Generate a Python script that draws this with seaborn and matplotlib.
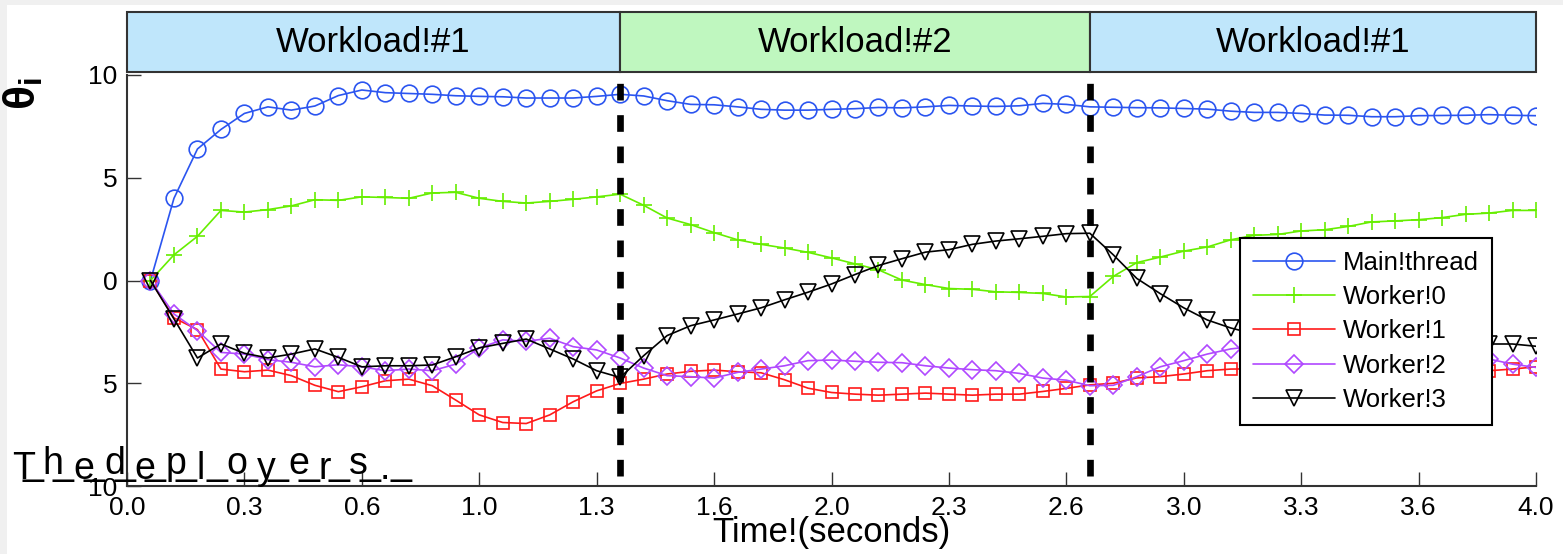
import numpy as np
import matplotlib
matplotlib.use("Agg")
import matplotlib.pyplot as plt
from matplotlib.patches import Rectangle
import seaborn as sns

# sample times: one sample every 1/15 s, 60 samples
SAMPLE_PERIOD = 1.0 / 15.0
time = SAMPLE_PERIOD * np.arange(1, 61)

main_thread = [0.0, 4.0, 6.4, 7.35, 8.13, 8.45, 8.29, 8.49, 9.0, 9.27,
               9.14, 9.1, 9.06, 8.99, 8.96, 8.94, 8.88, 8.88, 8.88, 8.96,
               9.06, 8.98, 8.75, 8.57, 8.55, 8.45, 8.33, 8.29, 8.29, 8.33,
               8.36, 8.42, 8.40, 8.45, 8.52, 8.49, 8.47, 8.50, 8.62, 8.57,
               8.45, 8.43, 8.41, 8.40, 8.37, 8.34, 8.24, 8.18, 8.18, 8.13,
               8.05, 8.04, 7.97, 7.97, 8.02, 8.03, 8.04, 8.07, 8.04, 8.02]
worker0 = [0.0, 1.25, 2.15, 3.41, 3.33, 3.45, 3.63, 3.93, 3.90, 4.07,
           4.04, 4.0, 4.26, 4.29, 4.0, 3.85, 3.77, 3.85, 3.95, 4.07,
           4.2, 3.66, 3.04, 2.72, 2.33, 1.98, 1.76, 1.58, 1.37, 1.1,
           0.81, 0.52, 0.02, -0.2, -0.39, -0.43, -0.55, -0.58, -0.63, -0.8,
           -0.78, 0.2, 0.87, 1.14, 1.43, 1.63, 1.98, 2.2, 2.24, 2.41,
           2.47, 2.63, 2.85, 2.9, 2.96, 3.06, 3.22, 3.28, 3.41, 3.41]
worker1 = [0.0, -1.82, -2.39, -4.31, -4.44, -4.36, -4.63, -5.1, -5.41, -5.17,
           -4.88, -4.8, -5.12, -5.82, -6.54, -6.91, -6.96, -6.54, -5.9, -5.37,
           -5.01, -4.8, -4.55, -4.42, -4.36, -4.44, -4.49, -4.83, -5.24, -5.45,
           -5.53, -5.58, -5.53, -5.48, -5.53, -5.58, -5.53, -5.53, -5.4, -5.25,
           -5.08, -5.0, -4.74, -4.68, -4.55, -4.39, -4.31, -4.3, -4.3, -4.32,
           -4.35, -4.35, -4.38, -4.4, -4.4, -4.4, -4.4, -4.39, -4.31, -4.2]
worker2 = [0.0, -1.63, -2.44, -3.5, -3.58, -3.85, -3.98, -4.2, -4.1, -4.2,
           -4.39, -4.31, -4.39, -4.07, -3.28, -2.89, -2.96, -2.81, -3.22, -3.38,
           -3.77, -4.26, -4.63, -4.68, -4.75, -4.47, -4.31, -4.15, -3.9, -3.87,
           -3.93, -3.98, -4.0, -4.15, -4.26, -4.34, -4.39, -4.52, -4.75, -4.85,
           -5.12, -5.1, -4.68, -4.2, -3.9, -3.58, -3.33, -3.2, -3.2, -3.3,
           -3.35, -3.45, -3.5, -3.55, -3.6, -3.65, -3.7, -3.82, -4.07, -4.23]
worker3 = [0.0, -1.87, -3.77, -3.09, -3.54, -3.77, -3.58, -3.33, -3.74, -4.2,
           -4.15, -4.15, -4.11, -3.71, -3.28, -3.06, -2.85, -3.33, -3.82, -4.39,
           -4.72, -3.66, -2.68, -2.2, -1.92, -1.63, -1.33, -0.94, -0.57, -0.17,
           0.29, 0.73, 1.06, 1.38, 1.5, 1.76, 1.92, 2.03, 2.15, 2.28,
           2.3, 1.25, 0.1, -0.64, -1.33, -1.92, -2.31, -2.6, -2.8, -2.9,
           -3.0, -3.0, -3.05, -3.1, -3.1, -3.1, -3.1, -3.09, -3.09, -3.2]

series_names = ["Main!thread", "Worker!0", "Worker!1", "Worker!2", "Worker!3"]
series_values = [main_thread, worker0, worker1, worker2, worker3]
series_colors = ["#2b55f0", "#66ee00", "#ff1a1a", "#b048ff", "#000000"]
series_markers = ["o", "+", "s", "D", "v"]
marker_sizes = [12, 12, 9, 9, 12]

phase_edges = [0.0, 1.4, 2.7333, 4.0]
phase_labels = ["Workload!#1", "Workload!#2", "Workload!#1"]
phase_colors = ["#bfe6fb", "#bff7bf", "#bfe6fb"]

xtick_pos = np.linspace(0, 4, 13)
xtick_labels = ["0.0", "0.3", "0.6", "1.0", "1.3", "1.6", "2.0",
                "2.3", "2.6", "3.0", "3.3", "3.6", "4.0"]
ytick_pos = [10, 5, 0, -5, -10]
ytick_labels = ["10", "5", "0", "5", "10"]

garbled = "Thedeployers."

sns.set_style("white")
plt.rcParams["font.family"] = ["Liberation Sans", "DejaVu Sans"]
plt.rcParams["mathtext.fontset"] = "custom"
plt.rcParams["mathtext.rm"] = "Liberation Sans"
plt.rcParams["mathtext.it"] = "Liberation Sans:italic"
plt.rcParams["mathtext.bf"] = "Liberation Sans:bold"
for key in ["text.color", "axes.labelcolor", "xtick.labelcolor", "ytick.labelcolor"]:
    plt.rcParams[key] = "black"

W, H = 1563, 554
fig = plt.figure(figsize=(W / 100, H / 100), dpi=100)
fig.patch.set_facecolor("#f0f0f0")
fig.add_artist(Rectangle((7 / W, 0), 1, 1 - 5 / H, transform=fig.transFigure,
                         facecolor="white", edgecolor="none", zorder=-10))

ax = fig.add_axes([127 / W, 1 - 486 / H, 1409 / W, 411 / H])

for name, vals, col, mk, ms in zip(series_names, series_values, series_colors,
                                   series_markers, marker_sizes):
    sns.lineplot(x=time, y=vals, ax=ax, color=col, marker=mk, ms=ms,
                 mfc="none", mec=col, mew=1.2, lw=1.2, label=name,
                 errorbar=None, sort=False)

# workload banners above the plot
for x0, x1, lab, col in zip(phase_edges[:-1], phase_edges[1:], phase_labels, phase_colors):
    ax.add_patch(Rectangle((x0, 10.15), x1 - x0, 2.92, facecolor=col,
                           edgecolor="#333333", lw=1.5, clip_on=False,
                           transform=ax.transData))
    ax.text((x0 + x1) / 2, 11.12, lab, ha="center", va="baseline",
            fontsize=25, clip_on=False)

# phase switch markers
ax.vlines(phase_edges[1:-1], -9.5, 10.1, colors="black", lw=4.8,
          linestyles=(0, (2.5, 2.2)), clip_on=False, zorder=5)

ax.set_xlim(0, 4)
ax.set_ylim(-10, 10)
ax.set_xticks(xtick_pos)
ax.set_xticklabels(xtick_labels)
ax.set_yticks(ytick_pos)
ax.set_yticklabels(ytick_labels)
ax.tick_params(direction="in", length=10, width=1, labelsize=19, pad=7,
               color="#333333", bottom=True, left=True)

for s in ["top", "right"]:
    ax.spines[s].set_visible(False)
for s in ["left", "bottom"]:
    ax.spines[s].set_color("#333333")
    ax.spines[s].set_linewidth(1.5)

ax.set_xlabel("Time!(seconds)", fontsize=25, labelpad=-3)
ax.set_ylabel(r"$\mathbf{\theta_i}$", fontsize=32, rotation=90)
ax.yaxis.set_label_coords(-0.058, 0.955)

leg = ax.legend(loc="upper left", bbox_to_anchor=(0.79, 0.6034), borderaxespad=0,
                fontsize=18.5, frameon=True, fancybox=False, framealpha=1,
                edgecolor="black", handlelength=3.2, handletextpad=0.3,
                labelspacing=0.4, borderpad=0.5)
leg.get_frame().set_linewidth(1.5)

# overlapping stray text in the lower-left corner
xs = np.linspace(12, 380, len(garbled))
for i, (ch, x) in enumerate(zip(garbled, xs)):
    yb = 479 if i % 2 == 0 else 474
    fig.text(x / W, 1 - yb / H, ch, fontsize=27, ha="left", va="baseline")
    fig.text((x + 10) / W, 1 - 474 / H, "_", fontsize=27, ha="left", va="baseline")

fig.savefig("out.png", dpi=100, facecolor=fig.get_facecolor())
